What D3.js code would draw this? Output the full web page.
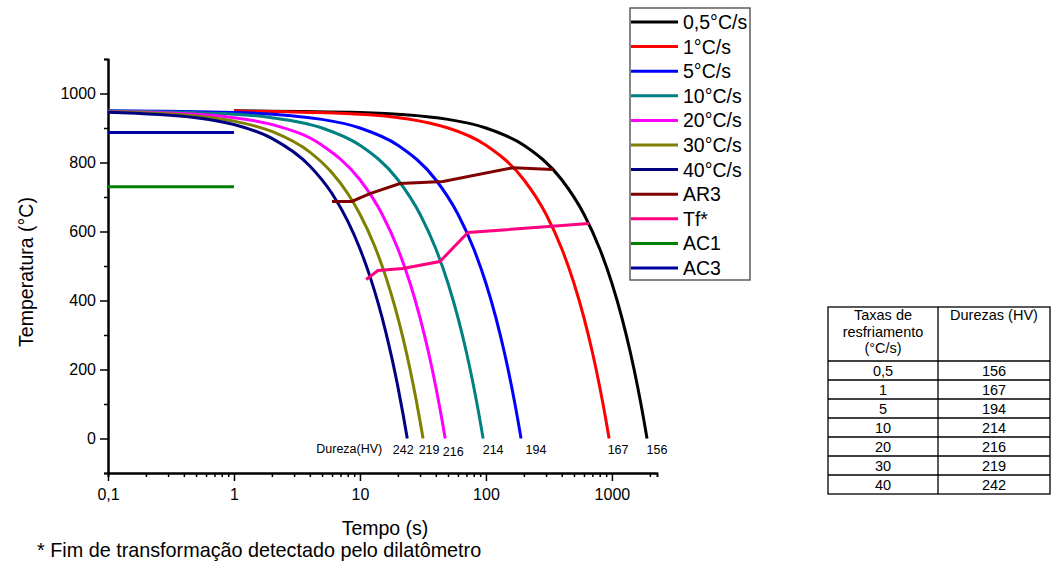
<!DOCTYPE html>
<html>
<head>
<meta charset="utf-8">
<style>
  body { margin: 0; background: #fff; }
  text { font-family: "Liberation Sans", Arial, sans-serif; fill: #000; }
  .curve { fill: none; stroke-width: 3; }
  .axis path, .axis line { stroke: #000; }
  .axis path { stroke-width: 2; }
  .axis line { stroke-width: 1.5; }
</style>
<script src="https://d3js.org/d3.v7.min.js"></script>
</head>
<body>
<script>
// cooling curves: time (s) and temperature (°C)
var rateNames = ["0,5°C/s", "1°C/s", "5°C/s", "10°C/s", "20°C/s", "30°C/s", "40°C/s"];

var t05 = [1, 10, 50, 100, 200, 400, 600, 800, 1000, 1200, 1400, 1600, 1700, 1800, 1900];
var T05 = [950, 945, 925, 900, 850, 750, 650, 550, 450, 350, 250, 150, 100, 50, 0];
var t1  = [1, 10, 50, 100, 200, 300, 400, 500, 600, 700, 800, 850, 900, 950];
var T1  = [949, 940, 900, 850, 750, 650, 550, 450, 350, 250, 150, 100, 50, 0];
var t5  = [0.1, 1, 5, 10, 20, 40, 60, 80, 100, 120, 140, 160, 170, 180, 190];
var T5  = [950, 945, 925, 900, 850, 750, 650, 550, 450, 350, 250, 150, 100, 50, 0];
var t10 = [0.1, 1, 2, 5, 10, 20, 30, 40, 50, 60, 70, 80, 85, 90, 95];
var T10 = [949, 940, 930, 900, 850, 750, 650, 550, 450, 350, 250, 150, 100, 50, 0];
var t20 = [0.1, 0.5, 1, 2, 5, 10, 15, 20, 25, 30, 35, 40, 42.5, 45, 47.5];
var T20 = [948, 940, 930, 910, 850, 750, 650, 550, 450, 350, 250, 150, 100, 50, 0];
var t30 = [0.1, 0.5, 1, 2, 4, 6, 8, 10, 13, 16, 19, 22, 25, 28, 30, 31.7];
var T30 = [947, 935, 920, 890, 830, 770, 710, 650, 560, 470, 380, 290, 200, 110, 50, 0];
var t40 = [0.1, 0.5, 1, 2, 4, 6, 8, 10, 12, 14, 16, 18, 20, 22, 23.75];
var T40 = [946, 930, 910, 870, 790, 710, 630, 550, 470, 390, 310, 230, 150, 70, 0];

// transformation lines
var tAR3 = [6.0, 8.6, 12.0, 20.8, 45.6, 164, 340];
var TAR3 = [687, 687, 710, 739, 745, 785, 780];
var tTf  = [11.2, 13.9, 21.9, 43.1, 72, 657];
var TTf  = [461, 487, 493, 513, 597, 623];
var tAC  = [0.1, 1];
var TAC1 = [730, 730];
var TAC3 = [887, 887];

// hardness (HV) for each rate
var tableRates = ["0,5", "1", "5", "10", "20", "30", "40"];
var hardness = [156, 167, 194, 214, 216, 219, 242];

var colors = ["#000000", "#ff0000", "#0000ff", "#008080", "#ff00ff", "#808000", "#000080"];
var hvNudge = [10, 9, 15, 10, 8, 6, -4];

var W = 1054, H = 572;
var svg = d3.select("body").append("svg").attr("width", W).attr("height", H);

var x = d3.scaleLog().domain([0.1, 2280]).range([108, 657]);
var y = d3.scaleLinear().domain([-100, 1100]).range([473, 59]);

// axes
var majX = [0.1, 1, 10, 100, 1000];
var minX = [];
[0.1, 1, 10, 100, 1000].forEach(function(d) {
  for (var k = 2; k <= 9; k++) if (d * k <= 2280) minX.push(d * k);
});
svg.append("g").attr("class", "axis")
  .attr("transform", "translate(0,473)")
  .call(d3.axisBottom(x).tickValues(minX).tickSize(4).tickFormat(""));
svg.append("g").attr("class", "axis")
  .attr("transform", "translate(0,473)")
  .call(d3.axisBottom(x).tickValues(majX).tickSize(8).tickSizeOuter(0).tickPadding(8)
    .tickFormat(function(d) { return d < 1 ? "0,1" : d3.format("d")(d); }))
  .selectAll("text").style("font-size", "16px");

svg.append("g").attr("class", "axis")
  .attr("transform", "translate(108,0)")
  .call(d3.axisLeft(y).tickValues([-100, 100, 300, 500, 700, 900, 1100]).tickSize(4).tickFormat(""));
svg.append("g").attr("class", "axis")
  .attr("transform", "translate(108,0)")
  .call(d3.axisLeft(y).tickValues([0, 200, 400, 600, 800, 1000]).tickSize(8).tickSizeOuter(0).tickPadding(4)
    .tickFormat(d3.format("d")))
  .selectAll("text").style("font-size", "16px");

// lines
var line = d3.line()
  .x(function(d) { return x(d[0]); })
  .y(function(d) { return y(d[1]); })
  .curve(d3.curveMonotoneX);

function pts(ts, Ts) { return ts.map(function(t, i) { return [t, Ts[i]]; }); }

var curves = [pts(t05, T05), pts(t1, T1), pts(t5, T5), pts(t10, T10), pts(t20, T20), pts(t30, T30), pts(t40, T40)];

svg.append("path").attr("class", "curve").attr("stroke", "#008000").attr("d", line(pts(tAC, TAC1)));
svg.append("path").attr("class", "curve").attr("stroke", "#0000a0").attr("d", line(pts(tAC, TAC3)));

curves.forEach(function(c, i) {
  svg.append("path").attr("class", "curve").attr("stroke", colors[i]).attr("d", line(c));
});

var lin = d3.line().x(function(d) { return x(d[0]); }).y(function(d) { return y(d[1]); });
svg.append("path").attr("class", "curve").attr("stroke", "#800000").attr("d", lin(pts(tAR3, TAR3)));
svg.append("path").attr("class", "curve").attr("stroke", "#ff0080").attr("d", lin(pts(tTf, TTf)));

// hardness labels under curve ends
curves.forEach(function(c, i) {
  var end = c[c.length - 1];
  svg.append("text")
    .attr("x", x(end[0]) + hvNudge[i])
    .attr("y", i === 4 ? 456 : 454)
    .attr("text-anchor", "middle")
    .style("font-size", "12.5px")
    .text(hardness[i]);
});
svg.append("text")
  .attr("x", x(t40[t40.length - 1]) - 25)
  .attr("y", 453)
  .attr("text-anchor", "end")
  .style("font-size", "12.5px")
  .text("Dureza(HV)");

// axis titles
svg.append("text")
  .attr("transform", "translate(33,272) rotate(-90)")
  .attr("text-anchor", "middle")
  .style("font-size", "19.5px")
  .text("Temperatura (°C)");
svg.append("text")
  .attr("x", 385).attr("y", 535)
  .attr("text-anchor", "middle")
  .style("font-size", "19.5px")
  .text("Tempo (s)");
svg.append("text")
  .attr("x", 37).attr("y", 557)
  .style("font-size", "19.8px")
  .text("* Fim de transformação detectado pelo dilatômetro");

// legend
var legNames = rateNames.concat(["AR3", "Tf*", "AC1", "AC3"]);
var legColors = colors.concat(["#800000", "#ff0080", "#008000", "#0000a0"]);
var leg = svg.append("g");
leg.append("rect").attr("x", 630).attr("y", 8).attr("width", 120).attr("height", 272)
  .attr("fill", "#fff").attr("stroke", "#444").attr("stroke-width", 1.3);
legNames.forEach(function(n, i) {
  var yy = 22 + i * 24.6;
  leg.append("line").attr("x1", 631).attr("x2", 678).attr("y1", yy).attr("y2", yy)
    .attr("stroke", legColors[i]).attr("stroke-width", 3);
  leg.append("text").attr("x", 683).attr("y", yy + 7).style("font-size", "19.5px").text(n);
});

// table
var tb = svg.append("g");
var tx0 = 828, tx1 = 938, tx2 = 1050, ty0 = 307, ty1 = 361, rowH = 19;
var tyEnd = ty1 + rowH * tableRates.length;
tb.append("rect").attr("x", tx0).attr("y", ty0).attr("width", tx2 - tx0).attr("height", tyEnd - ty0)
  .attr("fill", "none").attr("stroke", "#000").attr("stroke-width", 1.3);
tb.append("line").attr("x1", tx1).attr("x2", tx1).attr("y1", ty0).attr("y2", tyEnd)
  .attr("stroke", "#000").attr("stroke-width", 1.3);
d3.range(tableRates.length).forEach(function(i) {
  var yy = ty1 + i * rowH;
  tb.append("line").attr("x1", tx0).attr("x2", tx2).attr("y1", yy).attr("y2", yy)
    .attr("stroke", "#000").attr("stroke-width", 1.3);
  tb.append("text").attr("x", (tx0 + tx1) / 2).attr("y", yy + 14.5).attr("text-anchor", "middle")
    .style("font-size", "14.5px").text(tableRates[i]);
  tb.append("text").attr("x", (tx1 + tx2) / 2).attr("y", yy + 14.5).attr("text-anchor", "middle")
    .style("font-size", "14.5px").text(hardness[i]);
});
["Taxas de", "resfriamento", "(°C/s)"].forEach(function(s, i) {
  tb.append("text").attr("x", (tx0 + tx1) / 2).attr("y", 320 + i * 16.5).attr("text-anchor", "middle")
    .style("font-size", "14.5px").text(s);
});
tb.append("text").attr("x", (tx1 + tx2) / 2).attr("y", 320).attr("text-anchor", "middle")
  .style("font-size", "14.5px").text("Durezas (HV)");
</script>
</body>
</html>
